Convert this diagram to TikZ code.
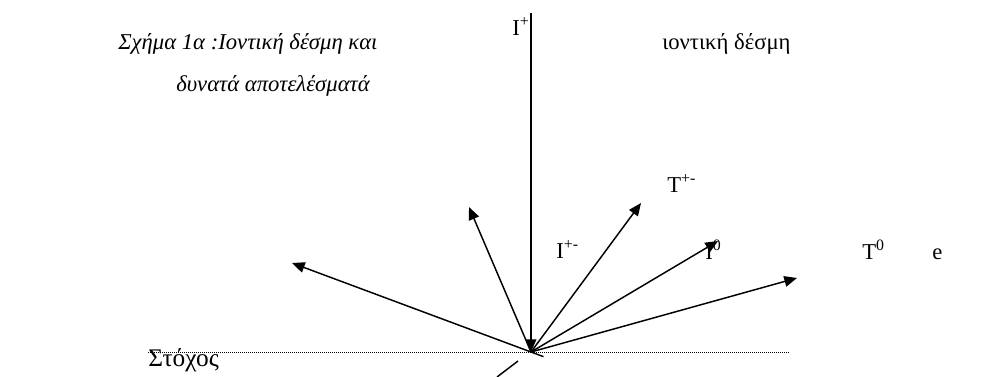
\documentclass[tikz,border=0pt]{standalone}
\usepackage{fontspec}
\setmainfont{Liberation Serif}
\usetikzlibrary{arrows.meta}

\begin{document}
\fontsize{17}{21}\selectfont
\begin{tikzpicture}[
  x=0.75pt, y=-0.75pt,
  >={Triangle[length=9.5pt,width=8pt]},
  beam/.style={->, line width=1.1pt},
  caption/.style={font=\itshape, anchor=base west, inner sep=0pt},
  label/.style={anchor=base west, inner sep=0pt}
]
  \useasboundingbox (0,0) rectangle (1003,376);

  % Caption and beam label
  \node[caption] (cap1) at (118,49) {Σχήμα 1α :Ιοντική δέσμη και};
  \node[caption] (cap2) at (176,91) {δυνατά αποτελέσματά};
  \node[label] (beamtxt) at (662,49) {ιοντική δέσμη};

  % Target surface
  \coordinate (O) at (531,352);
  \coordinate (surfL) at (148,352);
  \coordinate (surfR) at (790,352);
  \node[label, font=\fontsize{19}{22}\selectfont] (target) at (148,366) {Στόχος};
  \draw[line width=0.75pt, dash pattern=on 0.75pt off 0.75pt] (surfL) -- (surfR);

  % Incoming ion
  \node[label] (Iplus) at (512,35) {I\textsuperscript{+}};
  \coordinate (beamtop) at (531,13);
  \draw[beam] (beamtop) -- (O);

  % Products
  \coordinate (pL) at (292,263);
  \coordinate (pUL) at (469,207);
  \coordinate (pUR) at (641,203);
  \coordinate (pI) at (718,241);
  \coordinate (pR) at (797,278);
  \draw[beam, shorten <=-10pt] (O) -- (pL);
  \draw[beam] (O) -- (pUL);
  \draw[beam] (O) -- (pUR);
  \draw[beam] (O) -- (pI);
  \draw[beam] (O) -- (pR);

  % Beam below the surface
  \coordinate (lowA) at (497,377);
  \coordinate (lowB) at (518,361);
  \draw[line width=1.1pt] (lowA) -- (lowB);

  \node[label] (Tpm) at (667,192) {T\textsuperscript{+-}};
  \node[label] (Ipm) at (556,258) {I\textsuperscript{+-}};
  \node[label] (Izero) at (705,259) {I\textsuperscript{0}};
  \node[label] (Tzero) at (862,259) {T\textsuperscript{0}};
  \node[label] (elec) at (932,259) {e};
\end{tikzpicture}
\end{document}
